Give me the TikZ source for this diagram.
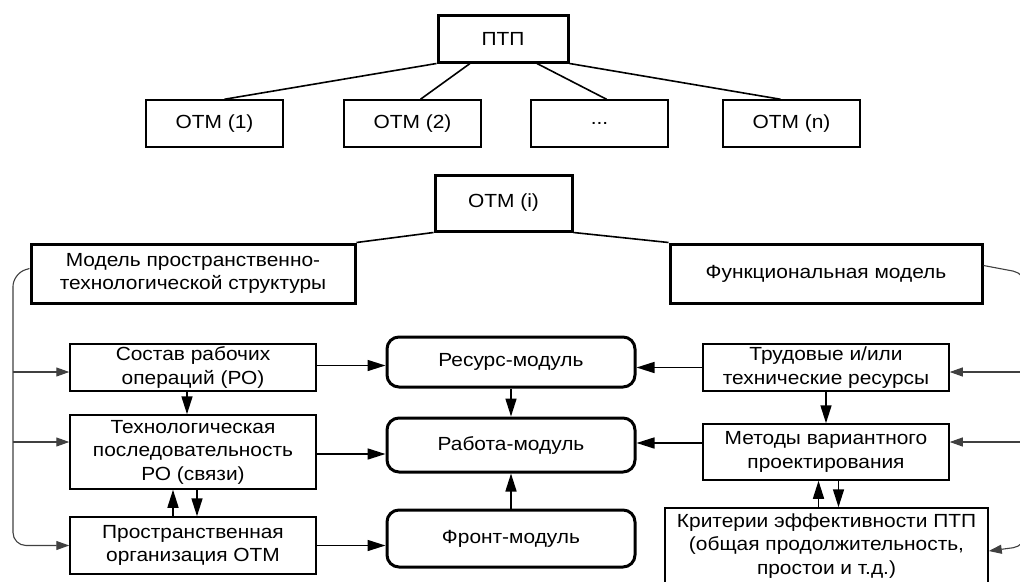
\documentclass[tikz,border=0pt]{standalone}
\usepackage{fontspec}
\setmainfont{Liberation Sans}[FakeStretch=1.1]
\usetikzlibrary{positioning, arrows.meta}
\tikzset{
	every node/.style={font=\fontsize{19}{23.5}\selectfont, align=center, inner sep=0pt}, % шрифт
	blok/.style={draw, line width=1.5pt}, % простой блок
	glblok/.style={draw, line width=3pt}, % главный блок
	modul/.style={draw, line width=3pt, rounded corners=12pt, minimum width=248pt}, % модуль
	svyaz/.style={-{Triangle[length=18pt,width=11pt]}, line width=1.6pt}, % стрелка
	shina/.style={-{Triangle[length=13pt,width=9pt]}, line width=1.1pt, draw=black!75, rounded corners=13pt} % боковая шина
}

\begin{document}
\begin{tikzpicture}[x=1pt, y=-1pt]
	\useasboundingbox (0,0) rectangle (1020,581);
	% верхний уровень
	\node[glblok, minimum width=130pt, minimum height=47pt] (ptp) at (503,38.5) {ПТП};
	\node[blok, minimum width=137pt, minimum height=47pt] (otm1) at (214.5,123.5) {ОТМ (1)};
	\node[blok, minimum width=137pt, minimum height=47pt] (otm2) at (412.5,123.5) {ОТМ (2)};
	\node[blok, minimum width=137pt, minimum height=47pt] (otmd) at (599.5,123.5) {...};
	\node[blok, minimum width=137pt, minimum height=47pt] (otmn) at (791.5,123.5) {ОТМ (n)};
	\draw[line width=1.6pt] (ptp.south west) -- ([xshift=10pt]otm1.north)
		([xshift=-33pt]ptp.south) -- ([xshift=8pt]otm2.north)
		([xshift=34pt]ptp.south) -- ([xshift=7pt]otmd.north)
		(ptp.south east) -- ([xshift=-11pt]otmn.north);
	% модель ОТМ (i)
	\node[glblok, minimum width=137pt, minimum height=56pt] (otmi) at (503.5,203) {ОТМ (i)};
	\node[glblok, minimum width=324pt, minimum height=59pt] (model) at (193,273.5) {Модель пространственно-\\технологической структуры};
	\node[glblok, minimum width=312pt, minimum height=59pt] (funk) at (826,273.5) {Функциональная модель};
	\draw[line width=1.6pt] (otmi.south west) -- (model.north east)
		(otmi.south east) -- (funk.north west);
	% левая колонка
	\node[blok, minimum width=246pt, minimum height=47pt] (sostav) at (193,367.5) {Состав рабочих\\операций (РО)};
	\node[blok, minimum width=246pt, minimum height=74pt] (tehn) at (193,452) {Технологическая\\последовательность\\РО (связи)};
	\node[blok, minimum width=246pt, minimum height=57pt] (prostr) at (193,545.5) {Пространственная\\организация ОТМ};
	% модули
	\node[modul, minimum height=50pt] (resurs) at (511,362) {Ресурс-модуль};
	\node[modul, minimum height=54pt] (rabota) at (511,445) {Работа-модуль};
	\node[modul, minimum height=57pt] (front) at (511,538.5) {Фронт-модуль};
	% правая колонка
	\node[blok, minimum width=246pt, minimum height=47pt] (trud) at (826,367.5) {Трудовые и/или\\технические ресурсы};
	\node[blok, minimum width=246pt, minimum height=56pt] (metody) at (826,452) {Методы вариантного\\проектирования};
	\node[blok, minimum width=323pt, minimum height=76pt] (krit) at (826.5,546) {Критерии эффективности ПТП\\(общая продолжительность,\\простои и т.д.)};
	% связи
	\draw[svyaz] ([yshift=2pt]sostav.east) -- ([yshift=2pt]sostav.east -| resurs.west);
	\draw[svyaz] ([yshift=-2pt]tehn.east) -- ([yshift=-2pt]tehn.east -| rabota.west);
	\draw[svyaz] (prostr.east) -- (prostr.east -| front.west);
	\draw[svyaz] ([xshift=-6pt]sostav.south) -- ([xshift=-6pt]tehn.north);
	\draw[svyaz] ([xshift=-20pt]prostr.north) -- ([xshift=-20pt]tehn.south);
	\draw[svyaz] ([xshift=4pt]tehn.south) -- ([xshift=4pt]prostr.north);
	\draw[svyaz] (resurs.south) -- (rabota.north);
	\draw[svyaz] (front.north) -- (rabota.south);
	\draw[svyaz] (trud.west) -- (trud.west -| resurs.east);
	\draw[svyaz] ([yshift=2pt]metody.west |- rabota.east) -- ([yshift=2pt]rabota.east);
	\draw[svyaz] (trud.south) -- (trud.south |- metody.north);
	\draw[svyaz] ([xshift=-8pt]krit.north) -- ([xshift=-8pt]krit.north |- metody.south);
	\draw[svyaz] ([xshift=12pt]krit.north |- metody.south) -- ([xshift=12pt]krit.north);
	% боковые шины
	\coordinate (shinaL) at (13,0);
	\coordinate (shinaR) at (1026,0);
	\draw[shina] ([yshift=5pt]model.west) -- (shinaL |- model.west) -- (shinaL |- prostr.west) -- (prostr.west);
	\draw[shina] (shinaL |- sostav.west) ++(0,4.5) -- ([yshift=-4.5pt]sostav.west);
	\draw[shina] (shinaL |- tehn.west) ++(0,-10) -- ([yshift=10pt]tehn.west);
	\draw[shina] ([yshift=8pt]funk.east) -- (shinaR |- funk.east) -- (shinaR |- krit.east) -- ([yshift=-5pt]krit.east);
	\draw[shina] (shinaR |- trud.east) ++(0,4.5) -- ([yshift=-4.5pt]trud.east);
	\draw[shina] (shinaR |- metody.east) ++(0,-10) -- ([yshift=10pt]metody.east);
\end{tikzpicture}
\end{document}
